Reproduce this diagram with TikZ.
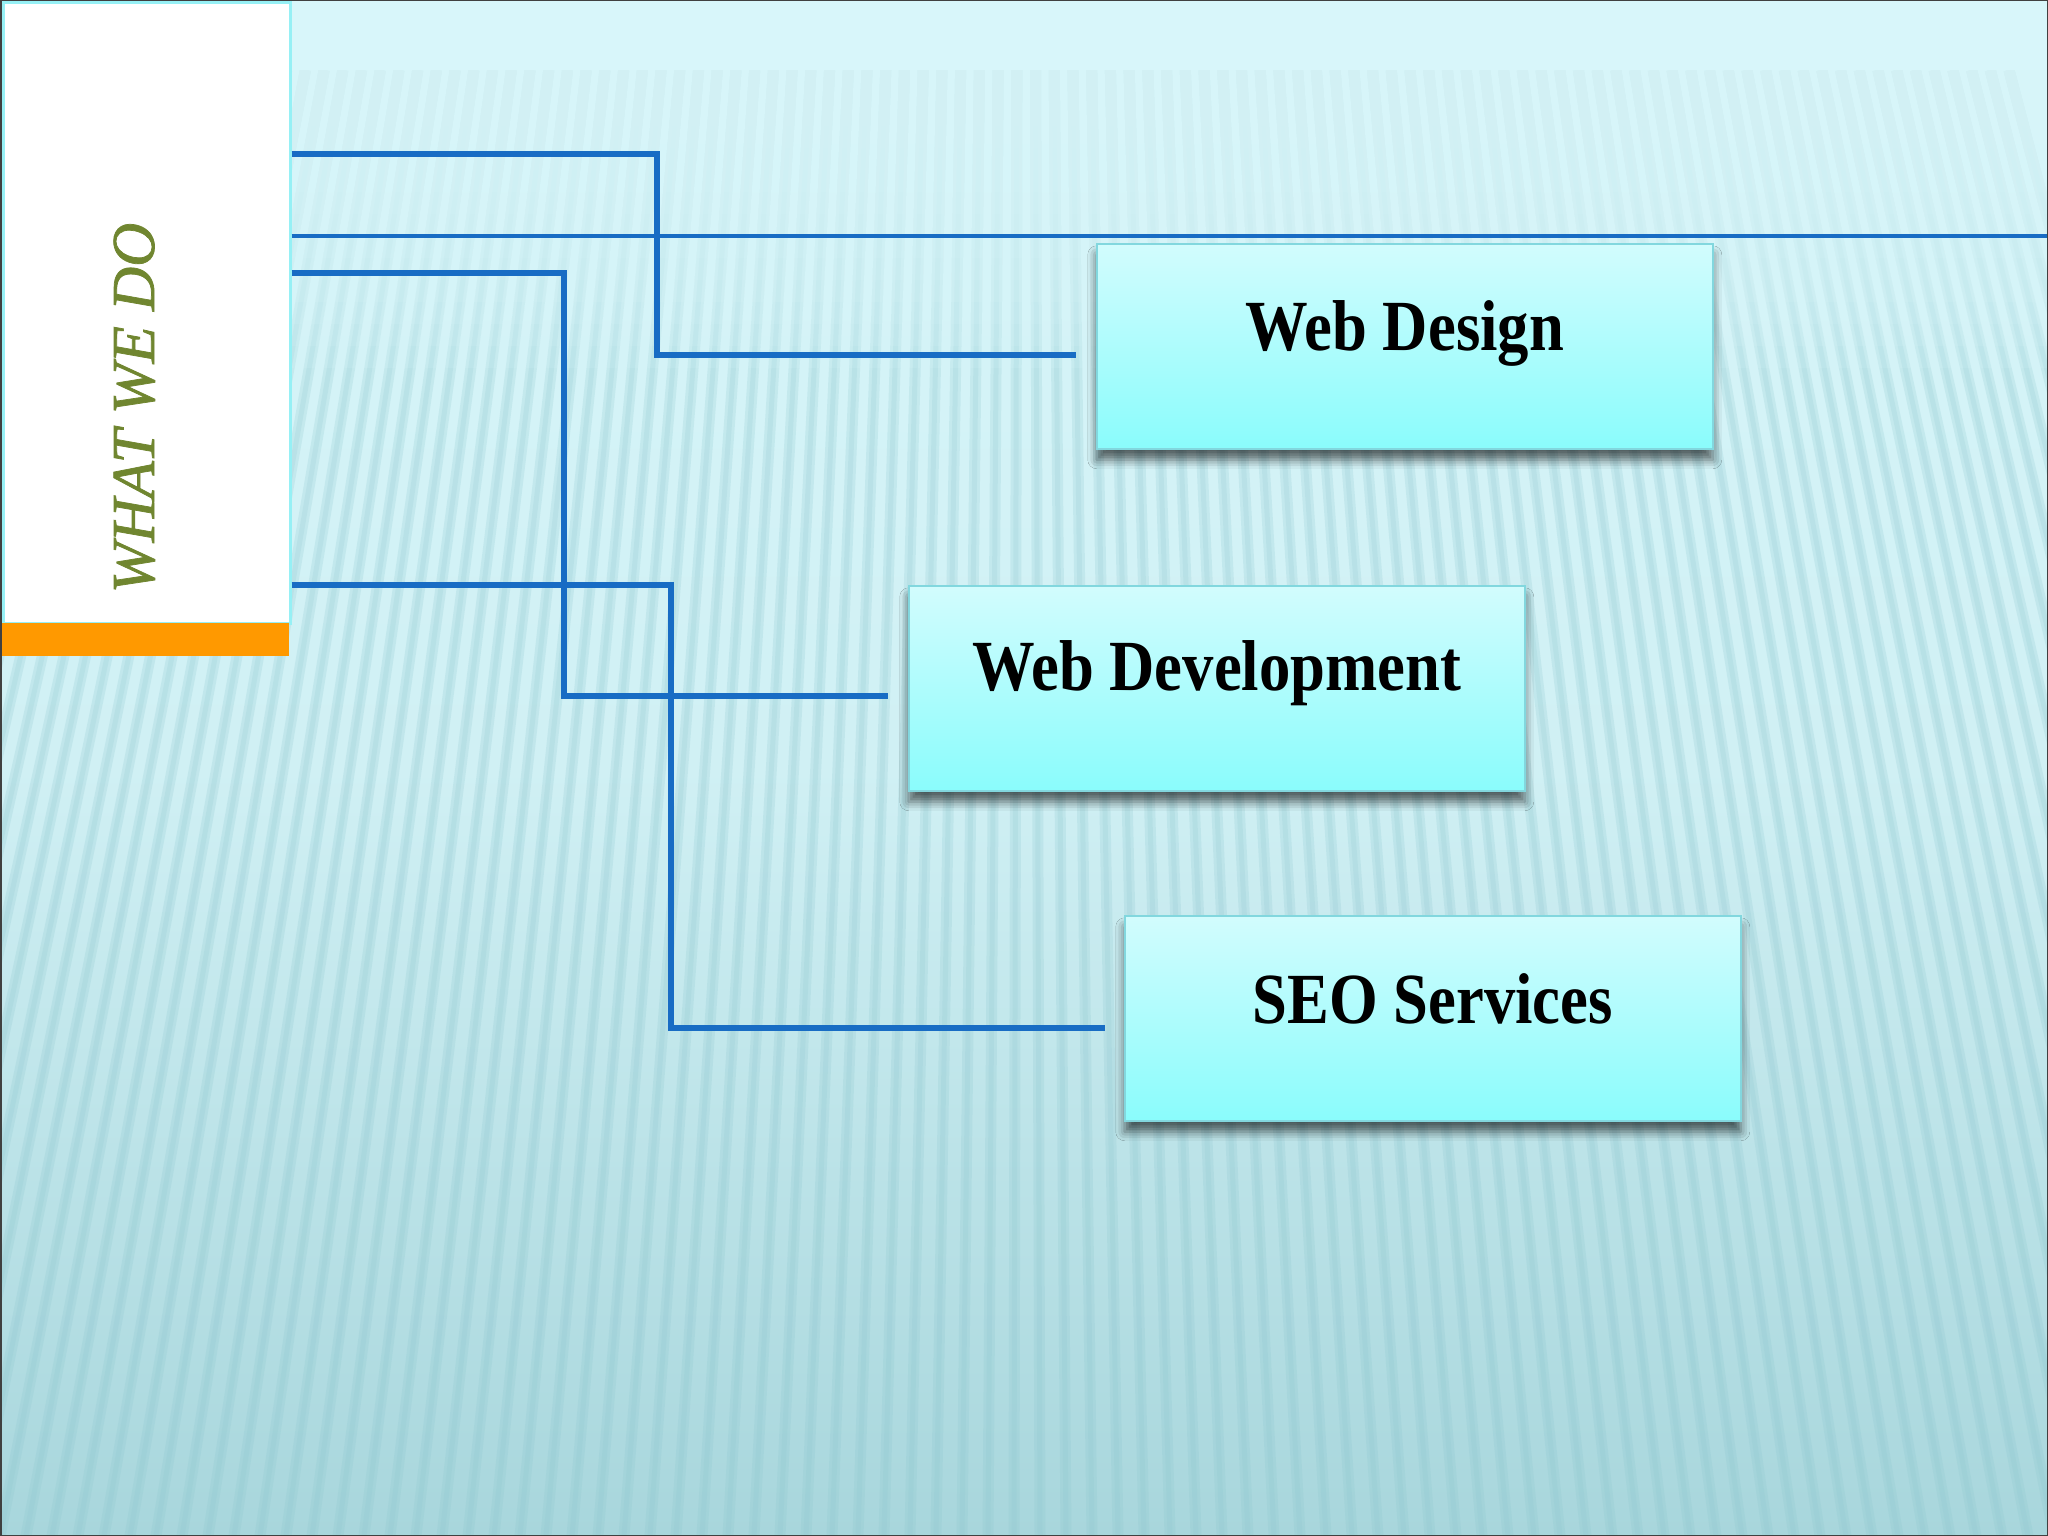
\documentclass[tikz,border=0pt]{standalone}
\usepackage{fontspec}
\setmainfont{Liberation Serif}
\newfontfamily\boxfont[UprightFont={* Bold},FakeStretch=0.87]{Liberation Serif}
\newfontfamily\titlefont[UprightFont={* Italic},FakeBold=1.2]{Liberation Serif}
\usetikzlibrary{shadows.blur,calc}
\definecolor{bgtop}{RGB}{216,246,250}
\definecolor{bgmid}{RGB}{208,240,244}
\definecolor{bgbot}{RGB}{168,214,220}
\definecolor{stripe}{RGB}{140,198,206}
\definecolor{connblue}{RGB}{24,108,196}
\definecolor{boxtop}{RGB}{210,252,253}
\definecolor{boxbot}{RGB}{138,252,252}
\definecolor{boxline}{RGB}{130,215,222}
\definecolor{sideline}{RGB}{150,240,245}
\definecolor{olive}{RGB}{112,134,48}
\definecolor{orangebar}{RGB}{255,153,0}
\begin{document}
\begin{tikzpicture}[x=1pt,y=-1pt,
  conn/.style={draw=connblue, line width=5.5pt},
  svcbox/.style={rectangle, draw=boxline, line width=1.5pt, top color=boxtop, bottom color=boxbot,
    minimum width=616pt, minimum height=205pt, inner sep=0pt, anchor=north west,
    blur shadow={shadow xshift=0pt, shadow yshift=-11pt, shadow blur radius=9pt, shadow opacity=60}},
  svclabel/.style={font=\boxfont\fontsize{72}{86}\selectfont, anchor=base, inner sep=0pt, text=black},
]
\useasboundingbox (0,0) rectangle (2048,1536);
% background
\shade[top color=bgtop, bottom color=bgbot, middle color=bgmid] (0,0) rectangle (2048,1536);
\begin{scope}
  \clip (0,70) rectangle (2048,1536);
  \foreach \i in {-12,...,92} {
    \pgfmathsetmacro\xb{\i*26}
    \pgfmathsetmacro\xt{1024+(\xb-1024)*0.72}
    \draw[stripe, line width=11pt, opacity=0.22] (\xt,70) -- (\xb,1536);
    \draw[stripe, line width=5pt, opacity=0.18] (\xt,70) -- (\xb,1536);
  }
\end{scope}
\foreach \k in {1,...,14} {
  \fill[bgtop, opacity=0.16] (0,60) rectangle (2048,60+\k*22);
}
\fill[bgtop] (0,0) rectangle (2048,70);
% side panel
\node[name=side, draw=sideline, line width=3pt, fill=white, minimum width=287pt, minimum height=620pt,
  inner sep=0pt, anchor=north west] at (1.5,1.5) {};
\node[name=bar, fill=orangebar, minimum width=289pt, minimum height=33pt, inner sep=0pt, anchor=north west] at (0,623) {};
\node[name=title, rotate=90, anchor=base, text=olive, font=\titlefont\fontsize{61}{70}\selectfont, inner sep=0pt] at (154,408) {WHAT WE DO};
% boxes
\node[svcbox] (wd) at (1096,243) {};
\node[svcbox] (wdev) at (908,585) {};
\node[svcbox] (seo) at (1124,915) {};
\node[svclabel] (wdl) at ($(wd.north)+(0,107)$) {Web Design};
\node[svclabel] (wdevl) at ($(wdev.north)+(0,105)$) {Web Development};
\node[svclabel] (seol) at ($(seo.north)+(0,108)$) {SEO Services};
% connectors
\coordinate (e1) at (1076,355);
\coordinate (e2) at (2048,236);
\coordinate (e3) at (888,696);
\coordinate (e4) at (1105,1028);
\draw[conn] (side.east |- 0,154) -| (657,355) -- (e1);
\draw[conn, line width=4.5pt] (side.east |- 0,236) -- (e2);
\draw[conn] (side.east |- 0,273) -| (564,696) -- (e3);
\draw[conn] (side.east |- 0,585) -| (671,1028) -- (e4);
% frame
\draw[black!75, line width=3pt] (0,0) rectangle (2048,1536);
\end{tikzpicture}
\end{document}
